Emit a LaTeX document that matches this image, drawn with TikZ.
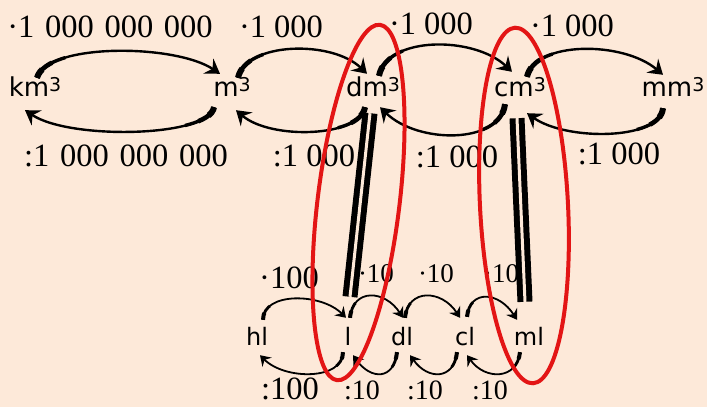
\documentclass[tikz,border=0pt]{standalone}
\usepackage{fontspec}
\setmainfont{Liberation Serif}
\newfontfamily\unitfont{DejaVu Sans}
\usetikzlibrary{arrows.meta}
\definecolor{bg}{HTML}{FDE9D9}
\definecolor{ringred}{HTML}{E31515}
\newcommand\cubic{\raisebox{5pt}{\fontsize{19}{19}\selectfont 3}}
\newcommand\gsp{\hspace{0.33em}}
\begin{document}
\begin{tikzpicture}[x=1pt,y=1pt,
  unit/.style={font=\unitfont\fontsize{26}{30}\selectfont, inner sep=0pt, text height=19pt, text depth=0pt, anchor=base},
  lunit/.style={unit, font=\unitfont\fontsize{24}{28}\selectfont},
  lab/.style={font=\fontsize{32.5}{36}\selectfont, inner sep=0pt, anchor=base},
  slab/.style={font=\fontsize{27}{30}\selectfont, inner sep=0pt, anchor=base},
  blab/.style={font=\fontsize{28}{30}\selectfont, inner sep=0pt, anchor=base},
  arr/.style={line width=2.4pt, -{Stealth[length=14pt,width=18pt,inset=5pt]},
    preaction={draw,-,line width=6pt,dash pattern=on 10pt off 2000pt},
    preaction={draw,-,line width=4.6pt,dash pattern=on 22pt off 2000pt},
    preaction={draw,-,line width=3.4pt,dash pattern=on 36pt off 2000pt}},
  larr/.style={line width=1.8pt, -{Stealth[length=10pt,width=13pt,inset=3.5pt]},
    preaction={draw,-,line width=4pt,dash pattern=on 7pt off 2000pt},
    preaction={draw,-,line width=2.8pt,dash pattern=on 16pt off 2000pt}},
  dbl/.style={line width=6pt, double=bg, double distance=3pt},
  ring/.style={draw=ringred, line width=4pt}
]
\fill[bg] (0,0) rectangle (707,407);
\useasboundingbox (0,0) rectangle (707,407);

% unit nodes
\node[unit] (km) at (35,310) {km\cubic};
\node[unit] (m)  at (232,310) {m\cubic};
\node[unit] (dm) at (373,310) {dm\cubic};
\node[unit] (cm) at (520,310) {cm\cubic};
\node[unit] (mm) at (673,310) {mm\cubic};
\node[lunit] (hl) at (257,61) {hl};
\node[lunit] (l)  at (348,61) {l};
\node[lunit] (dl) at (402,61) {dl};
\node[lunit] (cl) at (465,61) {cl};
\node[lunit] (ml) at (529,61) {ml};

% labels
\node[lab] (t1) at (110,369) {·1\gsp000\gsp000\gsp000};
\node[lab] (t2) at (281,369) {·1 000};
\node[lab] (t3) at (431,372) {·1 000};
\node[lab] (t4) at (572,370) {·1 000};
\node[lab] (b1) at (126,240) {:1\gsp000\gsp000\gsp000};
\node[lab] (b2) at (314,240) {:1 000};
\node[lab] (b3) at (457,239) {:1 000};
\node[lab] (b4) at (619,242) {:1 000};
\node[lab] (lt1) at (289,118) {·100};
\node[slab] (lt2) at (376,124) {·10};
\node[slab] (lt3) at (436,124) {·10};
\node[slab] (lt4) at (501,124) {·10};
\node[lab] (lb1) at (290,7) {:100};
\node[blab] (lb2) at (362,7) {:10};
\node[blab] (lb3) at (425,7) {:10};
\node[blab] (lb4) at (490,7) {:10};

% upper arcs
\draw[arr] ([shift={(2,0)}]km.north) .. controls +(10,35) and +(-45,30) .. ([shift={(-12,4)}]m.north);
\draw[arr] ([shift={(6,0)}]m.north) .. controls +(8,36) and +(-35,34) .. ([shift={(-6,4)}]dm.north);
\draw[arr] ([shift={(6,2)}]dm.north) .. controls +(8,40) and +(-38,36) .. ([shift={(-8,6)}]cm.north);
\draw[arr] ([shift={(7,1)}]cm.north) .. controls +(8,36) and +(-40,34) .. ([shift={(-10,3)}]mm.north);
\draw[arr] ([shift={(-18,-10)}]m.south) .. controls +(-5,-30) and +(45,-30) .. ([shift={(-10,-13)}]km.south);
\draw[arr] ([shift={(-8,-10)}]dm.south) .. controls +(-5,-30) and +(35,-30) .. ([shift={(4,-13)}]m.south);
\draw[arr] ([shift={(-15,-7)}]cm.south) .. controls +(-5,-40) and +(38,-37) .. ([shift={(7,-10)}]dm.south);
\draw[arr] ([shift={(-10,-11)}]mm.south) .. controls +(-3,-32) and +(40,-28) .. ([shift={(7,-16)}]cm.south);

% lower arcs
\draw[larr] ([shift={(6,7)}]hl.north) .. controls +(0,28) and +(-25,25) .. ([shift={(-2,9)}]l.north);
\draw[larr] ([shift={(2,9)}]l.north) .. controls +(3,30) and +(-18,28) .. ([shift={(1,9)}]dl.north);
\draw[larr] ([shift={(3,9)}]dl.north) .. controls +(3,30) and +(-18,28) .. ([shift={(-5,9)}]cl.north);
\draw[larr] ([shift={(2,10)}]cl.north) .. controls +(3,28) and +(-18,28) .. ([shift={(-12,7)}]ml.north);
\draw[larr] ([shift={(-5,-6)}]l.south) .. controls +(0,-28) and +(25,-25) .. ([shift={(3,-9)}]hl.south);
\draw[larr] ([shift={(-5,-6)}]dl.south) .. controls +(-3,-28) and +(18,-25) .. ([shift={(5,-9)}]l.south);
\draw[larr] ([shift={(-8,-6)}]cl.south) .. controls +(-3,-28) and +(18,-25) .. ([shift={(8,-9)}]dl.south);
\draw[larr] ([shift={(-9,-6)}]ml.south) .. controls +(-3,-28) and +(18,-25) .. ([shift={(2,-9)}]cl.south);

% double lines
\draw[dbl] ([shift={(-3,-16)}]dm.south) -- ([shift={(2,30)}]l.north);
\draw[dbl] ([shift={(-3,-21)}]cm.south) -- ([shift={(-4,25)}]ml.north);

% red rings
\draw[ring, rotate around={-6.9:(358.5,204.5)}] (358.5,204.5) ellipse [x radius=41pt, y radius=179pt];
\draw[ring, rotate around={2.9:(524,201.5)}] (524,201.5) ellipse [x radius=44pt, y radius=178pt];
\end{tikzpicture}
\end{document}
